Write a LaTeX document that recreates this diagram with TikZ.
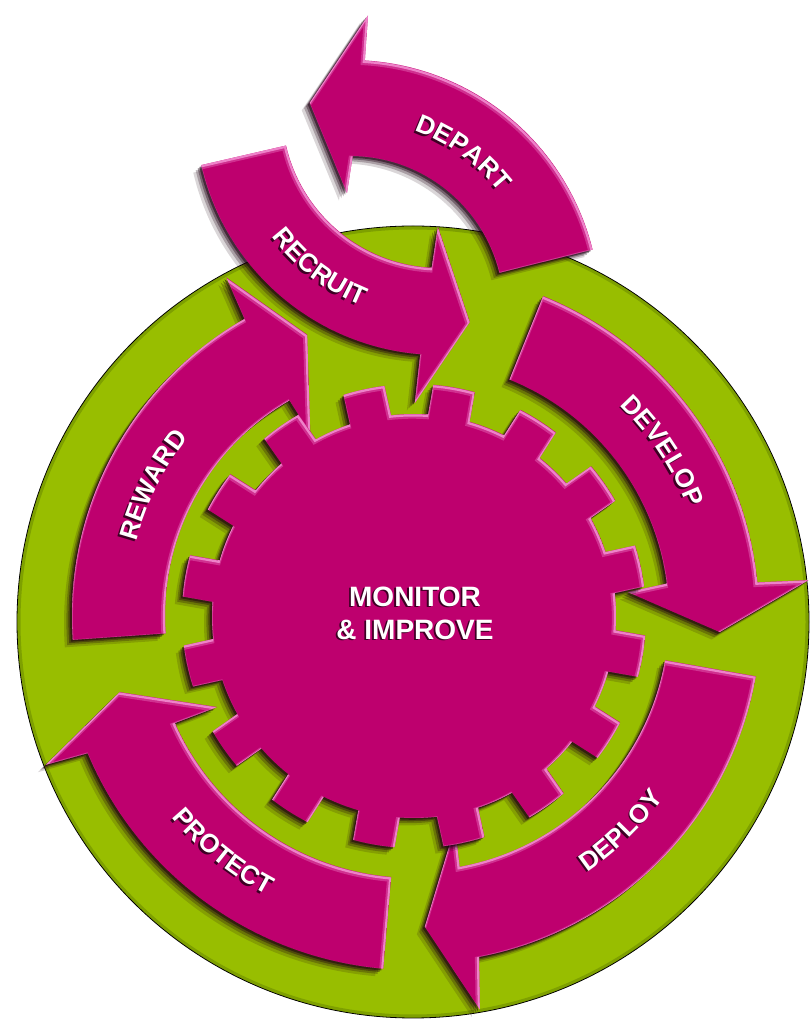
\documentclass[tikz,border=0pt]{standalone}
\usepackage{fontspec}
\setmainfont{Liberation Sans}
\usetikzlibrary{decorations.text}

\definecolor{leaf}{RGB}{152,190,0}
\definecolor{leafrim}{RGB}{110,140,0}
\definecolor{berry}{RGB}{190,0,110}
\definecolor{berrylight}{RGB}{242,140,208}
\definecolor{berrydark}{RGB}{30,0,18}
\definecolor{txtshade}{RGB}{60,0,35}

% curved band arrow around the local origin:
% #1 tail angle, #2/#3 outer/inner end of the shaft, #4/#5 inner/outer radius,
% #6 outer barb, #7 tip, #8 inner barb (polar, angle:radius)
\newcommand\arcarrow[8]{(#1:#5) arc[start angle=#1, end angle=#2, radius=#5]
  -- (#6) -- (#7) -- (#8) -- (#3:#4) arc[start angle=#3, end angle=#1, radius=#4] -- cycle}

% sixteen-tooth gear
\newcommand\gearpath{(74.03:202) \foreach \t in {80,102.5,...,417.5}{
  -- ({\t-5.97}:202) -- ({\t-5.19}:232)
  arc[start angle={\t-5.19}, end angle={\t+5.19}, radius=232]
  -- ({\t+5.97}:202)
  arc[start angle={\t+5.97}, end angle={\t+16.53}, radius=202]} -- cycle}

% raised magenta shape: soft drop shadow, fill, light bevel on the upper right
\newcommand\embossed[1]{%
  \fill[berrydark,opacity=.16,shift={(-8,-7.5)}] #1;
  \fill[berrydark,opacity=.26,shift={(-5.6,-5.2)}] #1;
  \fill[berrydark,opacity=.38,shift={(-3.6,-3.3)}] #1;
  \fill[berrydark,opacity=.55,shift={(-1.9,-1.8)}] #1;
  \fill[berry] #1;
  \begin{scope}
    \clip #1;
    \draw[berrylight,line width=5pt,opacity=.35,shift={(-1.6,-2.2)}] #1;
    \draw[berrylight,line width=2.2pt,opacity=.9,shift={(-1,-1.4)}] #1;
  \end{scope}}

\newcommand\lbl{\fontsize{26}{26}\selectfont\bfseries}

% white label bent along an arc, with a dark shadow
\newcommand\arclabel[4]{%
  \path[decorate,shift={(-1.8,-1.8)},decoration={text along path,text align=center,
    text={|\lbl\color{txtshade}|#4}}] (#1:#3) arc[start angle=#1,end angle=#2,radius=#3];
  \path[decorate,decoration={text along path,text align=center,
    text={|\lbl\color{white}|#4}}] (#1:#3) arc[start angle=#1,end angle=#2,radius=#3];}

\begin{document}
\begin{tikzpicture}[x=1pt,y=1pt]
\useasboundingbox (0,0) rectangle (811,1023);
\fill[white] (0,0) rectangle (811,1023);

% green disc
\coordinate (disc) at (413,401);
\fill[leaf] (disc) circle[radius=396];
\draw[leafrim,line width=3pt,opacity=.6] (disc) circle[radius=394];
\draw[black,line width=0.8pt] (disc) circle[radius=396];

% cycle of four arrows around the gear
\begin{scope}[shift={(414,407)}]
  \embossed{\arcarrow{68}{5.6}{7.3}{255}{345}{5.2:396}{-3:306}{6.4:215}}
  \embossed{\arcarrow{-10}{-79.2}{-79.7}{255}{347}{-80.5:399}{-88:311}{-79:215}}
  \embossed{\arcarrow{-95}{-157.2}{-155.9}{262}{354}{-158:397}{-165.5:304}{-155.2:217}}
  \embossed{\arcarrow{184}{119.7}{120}{249}{342}{119:387}{110.8:301}{119.6:210}}
\end{scope}

% arrow coming in
\begin{scope}[shift={(440,913)}]
  \embossed{\arcarrow{193}{265.4}{267}{158}{245}{265.1:294}{278:214}{269:117}}
  \arclabel{207.6}{257.6}{211}{RECRUIT}
\end{scope}

% arrow going out
\begin{scope}[shift={(350,713)}]
  \embossed{\arcarrow{14}{86.6}{89}{154}{250}{86.5:295}{101:211}{91.5:117}}
  \arclabel{79.2}{29.2}{190.5}{DEPART}
\end{scope}

% gear and the ring labels
\begin{scope}[shift={(414,407)}]
  \embossed{\gearpath}
  \arclabel{58.6}{8.6}{294.5}{DEVELOP}
  \arclabel{-71}{-21}{309}{DEPLOY}
  \arclabel{206}{256}{315}{PROTECT}
  \arclabel{178.4}{128.4}{287.5}{REWARD}
\end{scope}

\node[align=center,font=\fontsize{28}{33}\selectfont\bfseries,text=txtshade]
  (hubshade) at (413.2,408.2) {MONITOR\\\& IMPROVE};
\node[align=center,font=\fontsize{28}{33}\selectfont\bfseries,text=white]
  (hub) at (415,410) {MONITOR\\\& IMPROVE};
\end{tikzpicture}
\end{document}
